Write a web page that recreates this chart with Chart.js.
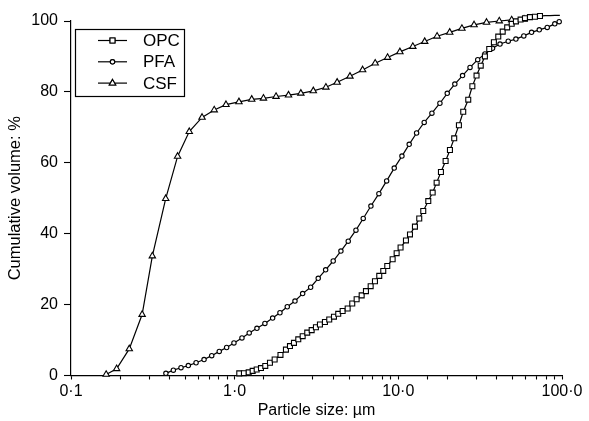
<!DOCTYPE html>
<html>
<head>
<meta charset="utf-8">
<script src="https://cdn.jsdelivr.net/npm/chart.js@4"></script>
<style>
html,body{margin:0;padding:0;background:#fff;}
#c{display:block;}
</style>
</head>
<body>
<canvas id="c" width="589" height="421"></canvas>
<script>
const seriesNames = ['OPC', 'PFA', 'CSF'];
const xTickLabels = {0.1: '0·1', 1: '1·0', 10: '10·0', 100: '100·0'};
const yTicks = [0, 20, 40, 60, 80, 100];

const opcSize = [1.067,1.139,1.218,1.288,1.363,1.448,1.538,1.643,1.755,1.905,2.057,2.177,2.303,2.447,2.603,2.776,2.954,3.137,3.319,3.561,3.783,4.043,4.293,4.568,4.902,5.229,5.562,5.970,6.341,6.775,7.197,7.646,8.089,8.559,9.231,9.765,10.32,11.13,11.78,12.63,13.42,14.20,15.24,16.21,17.14,18.21,19.45,20.67,21.95,23.45,24.92,26.74,28.33,30.05,31.88,33.80,35.93,38.36,40.79,43.42,46.25,49.28,52.31,55.84,59.38,63.71,68.34,73.37,78.71,84.34,90.46,97.03];
const opcVol = [0.6,0.65,0.9,1.3,1.7,2.1,2.7,3.6,4.5,5.8,7.3,8.3,9.2,10.2,11.1,12.1,12.8,13.6,14.4,15.1,15.8,16.6,17.4,18.2,18.9,20.3,21.5,22.6,23.8,25.2,26.6,28.1,29.5,30.9,32.8,34.5,36.1,38.1,39.8,42.0,44.3,46.4,49.2,51.6,54.4,57.4,60.5,63.6,66.9,70.6,74.4,77.8,81.6,84.6,87.4,90.0,92.1,94.0,95.6,97.0,98.2,99.2,99.9,100.4,100.8,101.1,101.2,101.4,101.5,101.5,101.6,101.6];

const pfaSize = [0.380,0.422,0.470,0.521,0.581,0.650,0.724,0.805,0.893,0.990,1.108,1.227,1.368,1.530,1.706,1.891,2.096,2.336,2.602,2.912,3.240,3.596,4.000,4.458,4.942,5.508,6.103,6.799,7.608,8.483,9.439,10.52,11.65,12.93,14.39,16.04,17.95,19.90,22.14,24.68,27.42,30.56,33.80,37.64,41.80,46.93,52.28,58.42,65.16,72.63,81.24,90.37,96.12];
const pfaVol = [0.6,1.5,2.2,2.8,3.6,4.5,5.6,6.8,7.9,9.2,10.6,12.0,13.3,14.7,16.2,17.7,19.4,21.0,23.1,24.9,27.4,29.8,32.3,35.1,37.9,41.0,44.3,47.8,51.3,54.9,58.5,61.9,65.2,68.4,71.4,74.0,76.8,79.6,82.2,84.6,86.9,89.1,90.7,92.3,93.5,94.3,94.9,95.8,96.8,97.5,98.2,99.2,99.8];

const csfSize = [0.164,0.190,0.227,0.272,0.314,0.379,0.448,0.528,0.632,0.750,0.885,1.062,1.271,1.499,1.790,2.133,2.537,3.023,3.609,4.227,5.063,6.050,7.221,8.595,10.22,12.26,14.49,17.25,20.60,24.46,29.02,34.58,41.37,49.25,58.62];
const csfVol = [0.3,1.9,7.5,17.2,33.7,49.9,61.8,68.8,72.8,74.9,76.4,77.2,77.9,78.2,78.7,79.1,79.6,80.3,81.3,82.7,84.4,86.2,88.1,89.7,91.3,92.8,94.2,95.7,96.8,97.9,98.9,99.6,100.0,100.3,100.5];

function pts(xs, ys) { return xs.map((x, i) => ({x: x, y: ys[i]})); }

const FONT = '"Liberation Sans", Arial, Helvetica, sans-serif';

const baseDs = {
  showLine: true,
  borderColor: '#000',
  borderWidth: 1.2,
  pointBackgroundColor: '#fff',
  pointBorderColor: '#000',
  pointBorderWidth: 1.1,
  tension: 0,
  clip: false
};

const datasets = [
  Object.assign({}, baseDs, {label: seriesNames[0], data: pts(opcSize, opcVol), pointStyle: 'rect', pointRadius: 3.5}),
  Object.assign({}, baseDs, {label: seriesNames[1], data: pts(pfaSize, pfaVol), pointStyle: 'circle', pointRadius: 2.2}),
  Object.assign({}, baseDs, {label: seriesNames[2], data: pts(csfSize, csfVol), pointStyle: 'triangle', pointRadius: 3.7})
];

const legendPlugin = {
  id: 'boxLegend',
  afterDraw(chart) {
    const ctx = chart.ctx;
    const bx = 75.5, by = 29.5, bw = 109, bh = 67;
    ctx.save();
    ctx.fillStyle = '#fff';
    ctx.fillRect(bx, by, bw, bh);
    ctx.strokeStyle = '#000';
    ctx.lineWidth = 1.2;
    ctx.strokeRect(bx, by, bw, bh);
    ctx.font = '17px ' + FONT;
    ctx.textBaseline = 'middle';
    chart.data.datasets.forEach((ds, i) => {
      const y = 40.5 + i * 21.3;
      ctx.beginPath();
      ctx.moveTo(98, y);
      ctx.lineTo(127, y);
      ctx.strokeStyle = '#000';
      ctx.lineWidth = 1.2;
      ctx.stroke();
      ctx.fillStyle = '#fff';
      ctx.lineWidth = 1.1;
      Chart.helpers.drawPoint(ctx, {pointStyle: ds.pointStyle, radius: ds.pointRadius, borderWidth: 1.1}, 112.5, y);
      ctx.fill();
      ctx.stroke();
      ctx.fillStyle = '#000';
      ctx.fillText(ds.label, 143, y + 1);
    });
    ctx.restore();
  }
};

new Chart(document.getElementById('c'), {
  type: 'scatter',
  data: {datasets: datasets},
  plugins: [legendPlugin],
  options: {
    responsive: false,
    animation: false,
    devicePixelRatio: 1,
    layout: {padding: {top: 21, right: 27, left: 0, bottom: 0}},
    plugins: {legend: {display: false}, tooltip: {enabled: false}},
    scales: {
      x: {
        type: 'logarithmic',
        min: 0.1,
        max: 100,
        afterFit(s) { s.height = 45.5; },
        border: {display: true, color: '#000', width: 1.2},
        grid: {drawOnChartArea: false, drawTicks: true, tickLength: 4, color: '#000', tickWidth: 1.1},
        ticks: {
          autoSkip: false,
          maxRotation: 0,
          color: '#000',
          padding: 2,
          font: {family: FONT, size: 16},
          callback(v) {
            const k = Object.keys(xTickLabels).find(t => Math.abs(Number(t) - v) < 1e-9);
            return k !== undefined ? xTickLabels[k] : '';
          }
        },
        title: {display: true, text: 'Particle size: µm', color: '#000', font: {family: FONT, size: 16}, padding: {top: 0, bottom: 1}}
      },
      y: {
        min: 0,
        max: 100,
        afterFit(s) { s.width = 71; },
        afterBuildTicks(s) { s.ticks = yTicks.map(v => ({value: v})); },
        border: {display: true, color: '#000', width: 1.2},
        grid: {drawOnChartArea: false, drawTicks: true, tickLength: 7, color: '#000', tickWidth: 1.1},
        ticks: {color: '#000', padding: 6, font: {family: FONT, size: 16}},
        title: {display: true, text: 'Cumulative volume: %', color: '#000', font: {family: FONT, size: 16.5}, padding: {top: 6, bottom: 0}}
      }
    }
  }
});
</script>
</body>
</html>
